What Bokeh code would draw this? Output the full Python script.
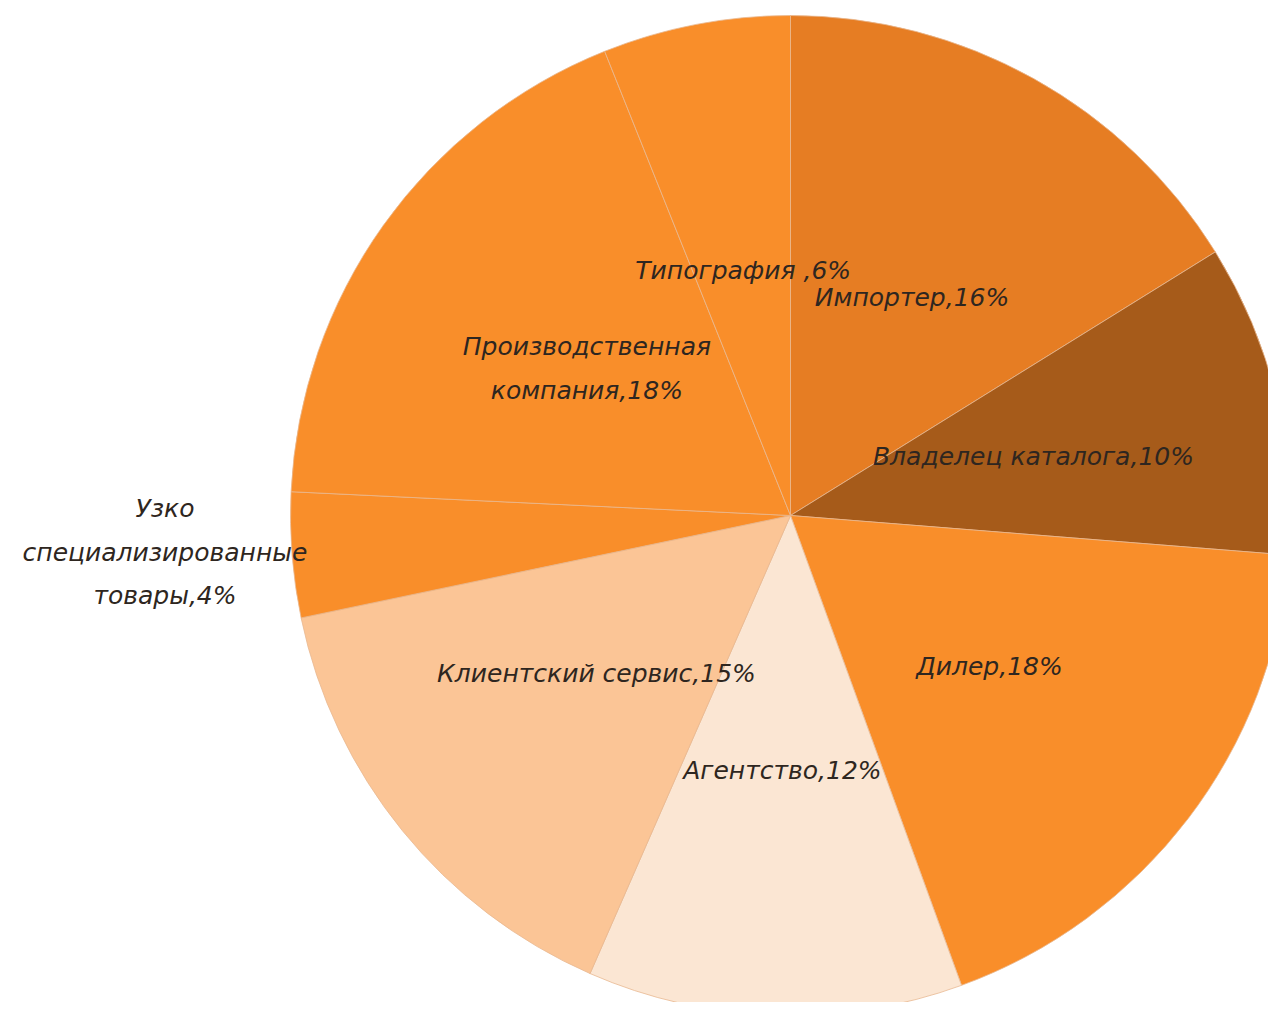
import math
from bokeh.plotting import figure
from bokeh.models import Range1d, ColumnDataSource
from bokeh.core.properties import value
from bokeh.embed import file_html
from bokeh.resources import INLINE

categories = ["Импортер", "Владелец каталога", "Дилер", "Агентство",
              "Клиентский сервис", "Узко специализированные товары",
              "Производственная компания", "Типография"]
shares = [16, 10, 18, 12, 15, 4, 18, 6]
label_texts = ["Импортер,16%", "Владелец каталога,10%", "Дилер,18%", "Агентство,12%",
               "Клиентский сервис,15%", "Узко\nспециализированные\nтовары,4%",
               "Производственная\nкомпания,18%", "Типография ,6%"]
colors = ["#E67D23", "#A65B1A", "#F98E2A", "#FBE6D3",
          "#FBC596", "#F98E2A", "#F98E2A", "#F98E2A"]

# layout (image pixel coordinates, y flipped into data space)
W, H = 1268, 1002
CX, CY, R = 790, 1018 - 515, 500
label_frac = [0.5, 0.5, 0.5, 0.51, 0.5, 1.255, 0.5, 0.5]
label_nudge = [0, 0, 0, 0, 0, -13, -2, 0]   # screen px, negative = up

p = figure(width=W, height=H, output_backend="svg", toolbar_location=None,
           x_range=Range1d(0, W), y_range=Range1d(1018 - H, 1018),
           min_border=0, outline_line_color=None)
p.axis.visible = False
p.grid.visible = False
p.background_fill_color = "white"
p.border_fill_color = "white"

total = float(sum(shares))
starts, ends, mids = [], [], []
cum = 0.0
for s in shares:
    a0 = cum / total * 2 * math.pi
    cum += s
    a1 = cum / total * 2 * math.pi
    starts.append(math.pi / 2 - a0)
    ends.append(math.pi / 2 - a1)
    mids.append(math.pi / 2 - (a0 + a1) / 2)

src = ColumnDataSource(dict(start=starts, end=ends, color=colors, cat=categories))
p.wedge(x=CX, y=CY, radius=R, start_angle="start", end_angle="end",
        direction="clock", fill_color="color", line_color="#E8B890",
        line_width=1, line_alpha=0.8, source=src)

lx = [CX + f * R * math.cos(m) for f, m in zip(label_frac, mids)]
ly = [CY + f * R * math.sin(m) for f, m in zip(label_frac, mids)]
lsrc = ColumnDataSource(dict(x=lx, y=ly, t=label_texts, dy=label_nudge))
p.text(x="x", y="y", text="t", source=lsrc, y_offset="dy", text_align="center",
       text_baseline="middle", text_font=value("DejaVu Sans"),
       text_font_style="italic", text_font_size="25px",
       text_color="#2E2620", text_line_height=1.5)

open("out.html", "w").write(file_html(p, INLINE))
